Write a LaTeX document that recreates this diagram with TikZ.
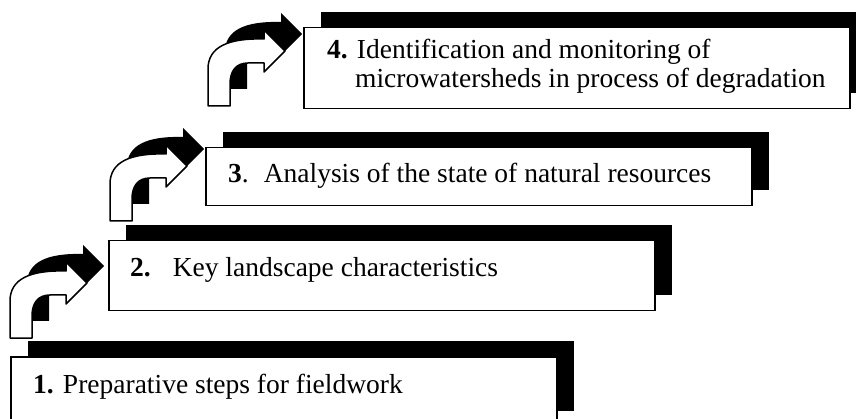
\documentclass[tikz,border=0pt]{standalone}
\usepackage{fontspec}
\setmainfont{Liberation Serif}
\usetikzlibrary{shadows}
\begin{document}
\begin{tikzpicture}[x=1pt,y=-1pt,
  stepbox/.style={draw=black, line width=1.5pt, fill=white, rectangle, inner sep=0pt,
    anchor=north west, minimum width=546pt,
    drop shadow={shadow xshift=17pt, shadow yshift=16pt, fill=black, opacity=1}},
  lbl/.style={anchor=base west, inner sep=0pt, font=\fontsize{27.5}{30}\selectfont},
  turnarrow/.pic={
    \fill[black, shift={(17,-17)}] (0,0) -- (0,-37) .. controls (0,-59) and (20,-68) .. (56,-67)
      -- (56,-76) -- (77,-55) -- (56,-34) -- (56,-43) -- (40,-43)
      .. controls (28,-43) and (22,-35) .. (22,-22) -- (22,0) -- cycle;
    \filldraw[fill=white, draw=black, line width=1.5pt, line join=round]
      (0,0) -- (0,-37) .. controls (0,-59) and (20,-68) .. (56,-67)
      -- (56,-76) -- (77,-55) -- (56,-34) -- (56,-43) -- (40,-43)
      .. controls (28,-43) and (22,-35) .. (22,-22) -- (22,0) -- cycle;
  }]
\useasboundingbox (0,0) rectangle (856,419);
\clip (0,0) rectangle (856,419);
\fill[white] (0,0) rectangle (856,419);

\node[stepbox, minimum height=70pt] (b1) at (10,356) {};
\node[stepbox, minimum height=70pt] (b2) at (108,240) {};
\node[stepbox, minimum height=58pt] (b3) at (205,147) {};
\node[stepbox, minimum height=81pt] (b4) at (303,27) {};

\pic at (10,338) {turnarrow};
\pic at (110,221) {turnarrow};
\pic at (208,106) {turnarrow};

\node[lbl] (t1) at (33,393) {\textbf{1.} Preparative steps for fieldwork};
\node[lbl] (t2) at (130,277) {\textbf{2.}\hspace{22pt}Key landscape characteristics};
\node[lbl] (t3) at (228,183) {\textbf{3}.\hspace{15pt}Analysis of the state of natural resources};
\node[lbl] (t4a) at (327,59) {\textbf{4.} Identification and monitoring of};
\node[lbl] (t4b) at (355,88) {microwatersheds in process of degradation};
\end{tikzpicture}
\end{document}
